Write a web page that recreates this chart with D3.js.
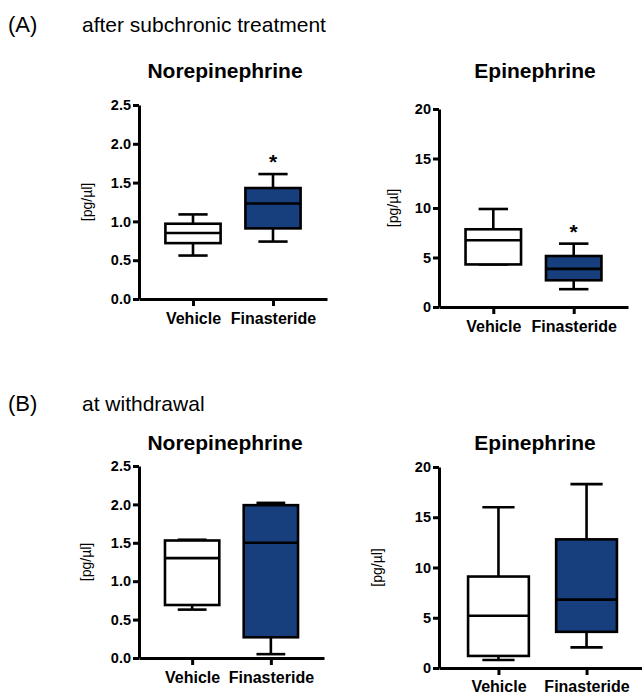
<!DOCTYPE html>
<html>
<head>
<meta charset="utf-8">
<script src="https://cdn.jsdelivr.net/npm/d3@7"></script>
<style>
  body { margin: 0; background: #fff; }
  svg text { font-family: "Liberation Sans", Arial, Helvetica, sans-serif; }
</style>
</head>
<body>
<div id="chart"></div>
<script>
/*******  Data ******/
const groups = ["Vehicle", "Finasteride"];
// five numbers per box: [min, q1, median, q3, max]
const subNorepi = [[0.56, 0.72, 0.85, 0.97, 1.09], [0.74, 0.91, 1.23, 1.43, 1.61]];
const subEpi    = [[4.3, 4.3, 6.75, 7.85, 9.9], [1.8, 2.7, 3.85, 5.15, 6.4]];
const wdNorepi  = [[0.63, 0.69, 1.30, 1.53, 1.54], [0.05, 0.27, 1.50, 1.99, 2.02]];
const wdEpi     = [[0.8, 1.2, 5.2, 9.1, 16.0], [2.05, 3.6, 6.8, 12.8, 18.3]];
const norepiTicks = [0, 0.5, 1.0, 1.5, 2.0, 2.5];
const epiTicks = [0, 5, 10, 15, 20];
const sigMarks = ["", "*"];   // asterisks above boxes (subchronic only)

/*******  Layout ******/
const svgW = 642;
const svgH = 696;
const boxFill = ["#ffffff", "#173f7e"];
const lw = 2.6;

const svg = d3.select("#chart").append("svg")
  .attr("width", svgW)
  .attr("height", svgH);

// section headers
function header(label, text, y) {
  svg.append("text").attr("x", 8).attr("y", y)
    .style("font-size", "22px").text(label);
  svg.append("text").attr("x", 82).attr("y", y)
    .style("font-size", "21px").text(text);
}
header("(A)", "after subchronic treatment", 32);
header("(B)", "at withdrawal", 411);

// draw one box plot panel
function panel(p) {
  const g = svg.append("g");

  const x = d3.scalePoint()
    .domain(groups)
    .range([p.left, p.right])
    .padding(p.pad);
  const y = d3.scaleLinear()
    .domain([0, p.ticks[p.ticks.length - 1]])
    .range([p.bottom, p.top]);
  const bw = x.step() * 0.69;
  const cw = bw * 0.53;

  // title
  svg.append("text")
    .attr("x", p.titleX).attr("y", p.titleY)
    .attr("text-anchor", "middle")
    .style("font-size", "21px").style("font-weight", "bold")
    .text(p.title);

  // y axis title
  svg.append("text")
    .attr("transform", `translate(${p.ylabX}, ${(p.bottom + p.top) / 2}) rotate(-90)`)
    .attr("text-anchor", "middle")
    .style("font-size", "14px")
    .text("[pg/µl]");

  // axes
  const yAxis = g.append("g")
    .attr("transform", `translate(${p.left}, 0)`)
    .call(d3.axisLeft(y).tickValues(p.ticks).tickSize(6).tickSizeOuter(0)
      .tickPadding(2).tickFormat(p.fmt));
  const xAxis = g.append("g")
    .attr("transform", `translate(0, ${p.bottom})`)
    .call(d3.axisBottom(x).tickSize(7).tickSizeOuter(0).tickPadding(p.labPad));
  [xAxis, yAxis].forEach(a => {
    a.select(".domain").attr("stroke-width", 3).attr("stroke", "#000");
    a.selectAll("line").attr("stroke-width", 3).attr("stroke", "#000");
    a.selectAll("text").style("font-size", "14.5px").style("font-weight", "bold")
      .attr("fill", "#000");
  });
  xAxis.selectAll("text").style("font-size", "16px");

  // boxes
  const boxes = g.selectAll(".box")
    .data(p.data)
    .enter().append("g")
    .attr("class", "box");

  boxes.append("line")
    .attr("x1", (d, i) => x(groups[i])).attr("x2", (d, i) => x(groups[i]))
    .attr("y1", d => y(d[4])).attr("y2", d => y(d[0]))
    .attr("stroke", "#000").attr("stroke-width", lw);
  boxes.selectAll(".cap")
    .data((d, i) => [[d[0], i], [d[4], i]])
    .enter().append("line")
    .attr("x1", d => x(groups[d[1]]) - cw / 2).attr("x2", d => x(groups[d[1]]) + cw / 2)
    .attr("y1", d => y(d[0])).attr("y2", d => y(d[0]))
    .attr("stroke", "#000").attr("stroke-width", lw);
  boxes.append("rect")
    .attr("x", (d, i) => x(groups[i]) - bw / 2)
    .attr("width", bw)
    .attr("y", d => y(d[3]))
    .attr("height", d => y(d[1]) - y(d[3]))
    .attr("fill", (d, i) => boxFill[i])
    .attr("stroke", "#000").attr("stroke-width", lw);
  boxes.append("line")
    .attr("x1", (d, i) => x(groups[i]) - bw / 2).attr("x2", (d, i) => x(groups[i]) + bw / 2)
    .attr("y1", d => y(d[2])).attr("y2", d => y(d[2]))
    .attr("stroke", "#000").attr("stroke-width", lw);

  if (p.sig) {
    boxes.append("text")
      .attr("x", (d, i) => x(groups[i]))
      .attr("y", d => y(d[4]) - 5)
      .attr("text-anchor", "middle")
      .style("font-size", "21px").style("font-weight", "bold")
      .text((d, i) => sigMarks[i]);
  }
}

const fmt1 = d3.format(".1f");
const fmt0 = d3.format("d");

panel({ title: "Norepinephrine", titleX: 225, titleY: 78, data: subNorepi, ticks: norepiTicks,
  fmt: fmt1, left: 139, right: 327, pad: 0.675, top: 105, bottom: 299, ylabX: 92, labPad: 7, sig: true });
panel({ title: "Epinephrine", titleX: 535, titleY: 78, data: subEpi, ticks: epiTicks,
  fmt: fmt0, left: 439, right: 628, pad: 0.675, top: 109, bottom: 307, ylabX: 398, labPad: 7, sig: true });
panel({ title: "Norepinephrine", titleX: 225, titleY: 450, data: wdNorepi, ticks: norepiTicks,
  fmt: fmt1, left: 139, right: 324, pad: 0.675, top: 466, bottom: 658, ylabX: 91, labPad: 7, sig: false });
panel({ title: "Epinephrine", titleX: 535, titleY: 450, data: wdEpi, ticks: epiTicks,
  fmt: fmt0, left: 439, right: 646, pad: 0.675, top: 467, bottom: 668, ylabX: 382, labPad: 6, sig: false });
</script>
</body>
</html>
